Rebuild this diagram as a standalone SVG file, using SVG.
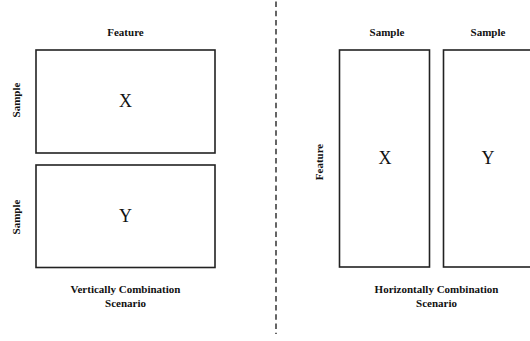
<svg xmlns="http://www.w3.org/2000/svg" width="530" height="341" viewBox="0 0 530 341">
<style>
.box{fill:#fff;stroke:#222;stroke-width:1.6}
.lbl{font-family:"Liberation Serif","Times New Roman",serif;font-weight:bold;font-size:11px;fill:#111;text-anchor:middle}
.big{font-family:"Liberation Serif","Times New Roman",serif;font-size:18px;fill:#111;text-anchor:middle}
.div{stroke:#333;stroke-width:1.5;stroke-dasharray:5.5 3.7;fill:none}
</style>
<rect width="530" height="341" fill="#fff"/>
<g id="connectors">
<line class="div" x1="276" y1="1.5" x2="276" y2="334"/>
</g>
<g id="left-labels">
<text class="lbl" x="125.5" y="36">Feature</text>
<text class="lbl" transform="translate(20,100) rotate(-90)">Sample</text>
<text class="lbl" transform="translate(20,217) rotate(-90)">Sample</text>
<text class="lbl" x="125.5" y="293">Vertically Combination</text>
<text class="lbl" x="125.5" y="307">Scenario</text>
</g>
<g id="vX">
<rect class="box" x="36" y="50" width="179" height="103"/>
<text class="big" x="125.5" y="107">X</text>
</g>
<g id="vY">
<rect class="box" x="36" y="165" width="179" height="102.5"/>
<text class="big" x="125.5" y="222">Y</text>
</g>
<g id="right-labels">
<text class="lbl" x="387" y="36">Sample</text>
<text class="lbl" x="488" y="36">Sample</text>
<text class="lbl" transform="translate(323,162) rotate(-90)">Feature</text>
<text class="lbl" x="436.5" y="293">Horizontally Combination</text>
<text class="lbl" x="436.5" y="307">Scenario</text>
</g>
<g id="hX">
<rect class="box" x="339.5" y="50" width="90" height="217"/>
<text class="big" x="385" y="164">X</text>
</g>
<g id="hY">
<rect class="box" x="443.5" y="50" width="92" height="217"/>
<text class="big" x="488" y="164">Y</text>
</g>
</svg>
